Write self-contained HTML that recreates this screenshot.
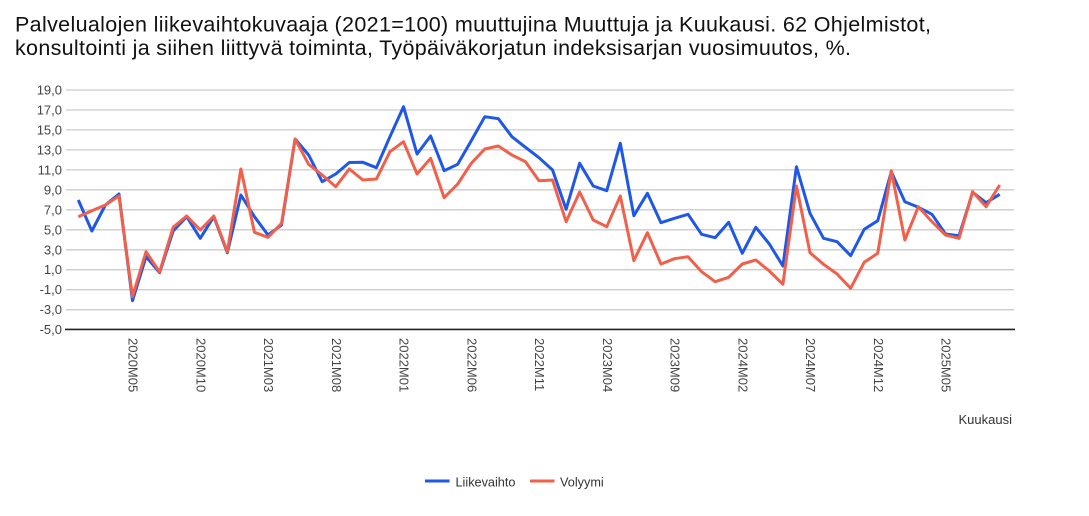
<!DOCTYPE html>
<html>
<head>
<meta charset="utf-8">
<style>
  html, body { margin:0; padding:0; background:#ffffff; }
  svg { display:block; }
  text { font-family: "Liberation Sans", Arial, sans-serif; }
</style>
</head>
<body>
<svg width="1089" height="516" viewBox="0 0 1089 516" xmlns="http://www.w3.org/2000/svg">
  <rect x="0" y="0" width="1089" height="516" fill="#ffffff"/>

  <!-- Title -->
  <text x="15" y="31.5" font-size="21.5" fill="#111" textLength="916" lengthAdjust="spacing">Palvelualojen liikevaihtokuvaaja (2021=100) muuttujina Muuttuja ja Kuukausi. 62 Ohjelmistot,</text>
  <text x="15" y="55" font-size="21.5" fill="#111" textLength="836" lengthAdjust="spacing">konsultointi ja siihen liittyvä toiminta, Työpäiväkorjatun indeksisarjan vuosimuutos, %.</text>

  <!-- Gridlines -->
  <g stroke="#cccccc" stroke-width="1.3">
    <line x1="66" y1="90" x2="1014" y2="90"/>
    <line x1="66" y1="110" x2="1014" y2="110"/>
    <line x1="66" y1="129.9" x2="1014" y2="129.9"/>
    <line x1="66" y1="149.9" x2="1014" y2="149.9"/>
    <line x1="66" y1="169.9" x2="1014" y2="169.9"/>
    <line x1="66" y1="189.8" x2="1014" y2="189.8"/>
    <line x1="66" y1="209.8" x2="1014" y2="209.8"/>
    <line x1="66" y1="229.8" x2="1014" y2="229.8"/>
    <line x1="66" y1="249.8" x2="1014" y2="249.8"/>
    <line x1="66" y1="269.7" x2="1014" y2="269.7"/>
    <line x1="66" y1="289.7" x2="1014" y2="289.7"/>
    <line x1="66" y1="309.7" x2="1014" y2="309.7"/>
  </g>
  <line x1="65" y1="329.4" x2="1015" y2="329.4" stroke="#222" stroke-width="1.6"/>

  <!-- Y labels -->
  <g font-size="13" fill="#444" text-anchor="end">
    <text x="62" y="94.5">19,0</text>
    <text x="62" y="114.5">17,0</text>
    <text x="62" y="134.4">15,0</text>
    <text x="62" y="154.4">13,0</text>
    <text x="62" y="174.4">11,0</text>
    <text x="62" y="194.3">9,0</text>
    <text x="62" y="214.3">7,0</text>
    <text x="62" y="234.3">5,0</text>
    <text x="62" y="254.3">3,0</text>
    <text x="62" y="274.2">1,0</text>
    <text x="62" y="294.2">-1,0</text>
    <text x="62" y="314.2">-3,0</text>
    <text x="62" y="333.9">-5,0</text>
  </g>

  <!-- X labels (rotated) -->
  <g font-size="13" fill="#444">
    <text transform="translate(133.3,338) rotate(90)" dy="0.35em">2020M05</text>
    <text transform="translate(201,338) rotate(90)" dy="0.35em">2020M10</text>
    <text transform="translate(268.8,338) rotate(90)" dy="0.35em">2021M03</text>
    <text transform="translate(336.6,338) rotate(90)" dy="0.35em">2021M08</text>
    <text transform="translate(404.3,338) rotate(90)" dy="0.35em">2022M01</text>
    <text transform="translate(472,338) rotate(90)" dy="0.35em">2022M06</text>
    <text transform="translate(539.8,338) rotate(90)" dy="0.35em">2022M11</text>
    <text transform="translate(607.5,338) rotate(90)" dy="0.35em">2023M04</text>
    <text transform="translate(675.3,338) rotate(90)" dy="0.35em">2023M09</text>
    <text transform="translate(743,338) rotate(90)" dy="0.35em">2024M02</text>
    <text transform="translate(810.8,338) rotate(90)" dy="0.35em">2024M07</text>
    <text transform="translate(878.5,338) rotate(90)" dy="0.35em">2024M12</text>
    <text transform="translate(946.3,338) rotate(90)" dy="0.35em">2025M05</text>
  </g>

  <text x="1012" y="424" font-size="13" fill="#333" text-anchor="end">Kuukausi</text>

  <!-- Series: Liikevaihto (blue) -->
  <polyline fill="none" stroke="#1f58e6" stroke-width="3" stroke-linejoin="round" stroke-linecap="butt"
    points="78.3,200 91.85,231 105.4,205 118.95,194 132.5,300.7 146.05,256.7 159.6,272.7 173.15,231 186.7,216.7 200.25,238.3 213.8,216.7 227.35,252.7 240.9,195 254.45,216.7 268,235 281.55,225 295.1,139 308.65,155 322.2,181.7 335.75,174 349.3,162.5 362.85,162.3 376.4,167.7 389.95,136.7 403.5,106.7 417.05,154 430.6,136 444.15,170.7 457.7,164.3 471.25,140.7 484.8,116.7 498.35,118.7 511.9,136.7 525.45,147.3 539,157.7 552.55,170 566.1,209.3 579.65,163.3 593.2,186 606.75,190.7 620.3,143.3 633.85,215.7 647.4,193.3 660.95,222.7 674.5,218.3 688.05,214.3 701.6,234.3 715.15,237.7 728.7,222.3 742.25,253.3 755.8,227.3 769.35,244 782.9,266 796.45,166.7 810,213.3 823.55,238.3 837.1,241.7 850.65,255.7 864.2,229.3 877.75,220.7 891.3,171.7 904.85,201.7 918.4,207.3 931.95,214.3 945.5,234 959.05,235.7 972.6,192.3 986.15,202.7 999.7,194.3"/>

  <!-- Series: Volyymi (orange) -->
  <polyline fill="none" stroke="#f0604a" stroke-width="3" stroke-linejoin="round" stroke-linecap="butt"
    points="78.3,216.7 91.85,210.7 105.4,205 118.95,196 132.5,296.7 146.05,251.7 159.6,272 173.15,227.3 186.7,216 200.25,230 213.8,216 227.35,251.7 240.9,169 254.45,232.3 268,237.3 281.55,223.3 295.1,139 308.65,164.3 322.2,175 335.75,186.7 349.3,169 362.85,180 376.4,179 389.95,151.7 403.5,141.7 417.05,174 430.6,158.3 444.15,197.7 457.7,184 471.25,163.3 484.8,149 498.35,146 511.9,155 525.45,161.7 539,180.7 552.55,180 566.1,221.7 579.65,192 593.2,220 606.75,226.7 620.3,196 633.85,260.7 647.4,232.7 660.95,264 674.5,258.7 688.05,256.7 701.6,271.7 715.15,281.7 728.7,277.3 742.25,264 755.8,260 769.35,271 782.9,284.3 796.45,186 810,252.7 823.55,264.3 837.1,274 850.65,288.3 864.2,262.3 877.75,253.3 891.3,170.7 904.85,240 918.4,206.7 931.95,221.7 945.5,235 959.05,238.3 972.6,191.7 986.15,206.7 999.7,185"/>

  <!-- Legend -->
  <line x1="425" y1="481" x2="449.5" y2="481" stroke="#1f58e6" stroke-width="3"/>
  <text x="455.5" y="486.3" font-size="12.7" fill="#333">Liikevaihto</text>
  <line x1="530" y1="481" x2="554.5" y2="481" stroke="#f0604a" stroke-width="3"/>
  <text x="560" y="486.3" font-size="12.7" fill="#333">Volyymi</text>
</svg>
</body>
</html>
